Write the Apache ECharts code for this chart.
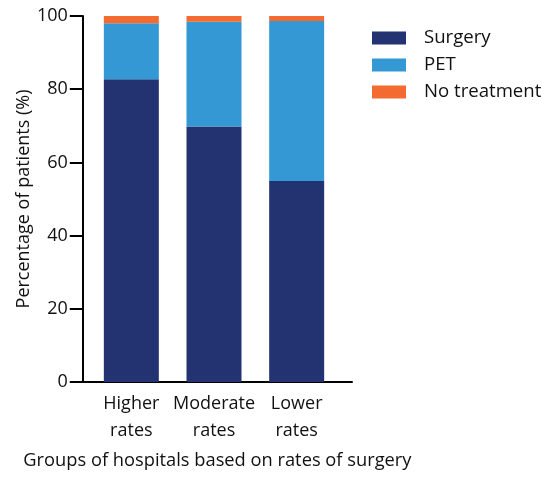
<!DOCTYPE html>
<html>
<head>
<meta charset="utf-8">
<script src="https://cdn.jsdelivr.net/npm/echarts@6/dist/echarts.min.js"></script>
<style>html,body{margin:0;padding:0;background:#fff}#c{width:544px;height:477px}</style>
</head>
<body>
<div id="c"></div>
<script>
const categories = ['Higher\nrates', 'Moderate\nrates', 'Lower\nrates'];
const surgery = [82.7, 69.8, 54.9];
const pet = [15.3, 28.6, 43.7];
const noTreatment = [2.0, 1.6, 1.4];
const yTicks = [0, 20, 40, 60, 80, 100];

const FONT = 'Open Sans';
const FS = 18;
const TXT = '#111';
const chart = echarts.init(document.getElementById('c'), null, {renderer: 'canvas'});
const mk = (name, data, color) => ({
  name, type: 'bar', stack: 'all', barWidth: 55, data,
  xAxisIndex: 0, yAxisIndex: 0,
  itemStyle: {color}, emphasis: {disabled: true}
});
chart.setOption({
  animation: false,
  textStyle: {fontFamily: FONT},
  grid: [
    {left: 90, right: 206, top: 16, bottom: 95},
    {left: 76, right: 192, top: 16, bottom: 95}
  ],
  legend: {
    orient: 'vertical', left: 367, top: 22, itemWidth: 34, itemHeight: 13, itemGap: 5,
    icon: 'rect',
    textStyle: {fontFamily: FONT, fontSize: 18.6, color: TXT, lineHeight: 22, padding: [0, 0, 0, 13]},
    data: ['Surgery', 'PET', 'No treatment']
  },
  xAxis: [
    {
      type: 'category', gridIndex: 0, data: categories,
      axisLine: {show: false}, axisTick: {show: false},
      axisLabel: {fontFamily: FONT, fontSize: FS, color: TXT, lineHeight: 27, margin: 8, interval: 0}
    },
    {
      type: 'value', gridIndex: 1, min: 0, max: 1,
      name: 'Groups of hospitals based on rates of surgery', nameLocation: 'middle', nameGap: 70,
      nameTextStyle: {fontFamily: FONT, fontSize: 18.3, color: TXT},
      splitLine: {show: false}, axisTick: {show: false}, axisLabel: {show: false},
      axisLine: {show: true, lineStyle: {color: '#000', width: 2}}
    }
  ],
  yAxis: [
    {
      type: 'value', gridIndex: 0, min: 0, max: 100, interval: 20,
      show: false
    },
    {
      type: 'value', gridIndex: 1, min: 0, max: 100, interval: 20,
      name: 'Percentage of patients (%)', nameLocation: 'middle', nameGap: 49,
      nameTextStyle: {fontFamily: FONT, fontSize: FS, color: TXT},
      splitLine: {show: false},
      axisLine: {show: true, onZero: false, lineStyle: {color: '#000', width: 2}},
      axisTick: {show: true, length: 13, lineStyle: {color: '#000', width: 2}},
      axisLabel: {fontFamily: FONT, fontSize: FS, color: TXT, margin: 15,
        formatter: v => yTicks.includes(v) ? String(v) : ''}
    }
  ],
  series: [
    mk('Surgery', surgery, '#233270'),
    mk('PET', pet, '#3498d5'),
    mk('No treatment', noTreatment, '#f36b30')
  ]
});
</script>
</body>
</html>
